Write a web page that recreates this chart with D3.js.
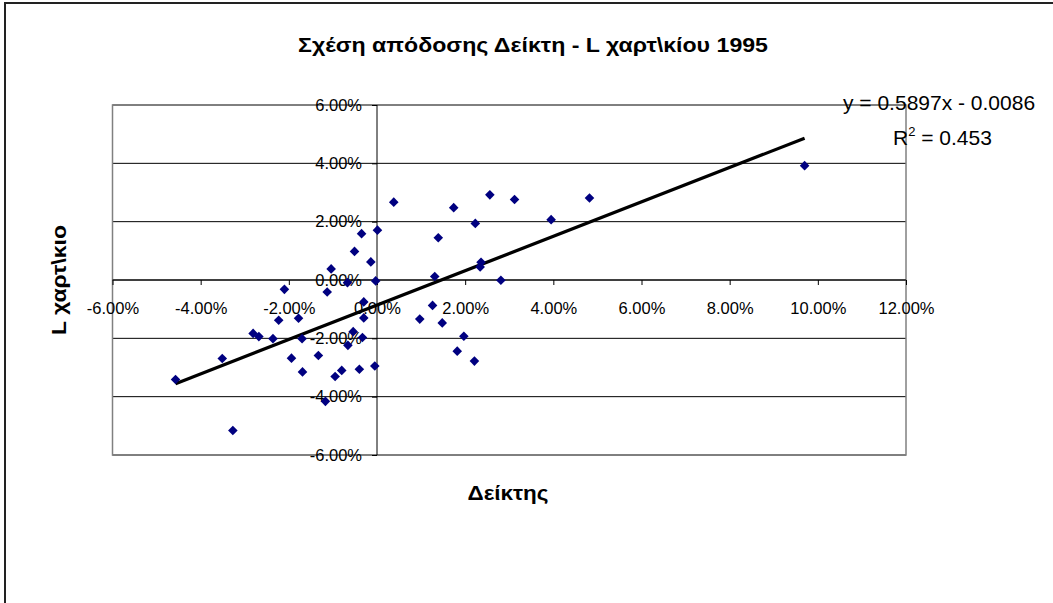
<!DOCTYPE html>
<html>
<head>
<meta charset="utf-8">
<title>Σχέση απόδοσης Δείκτη - L χαρτ\κίου 1995</title>
<style>
  body { margin: 0; background: #fff; overflow: hidden; }
  svg { display: block; font-family: "Liberation Sans", Arial, sans-serif; }
</style>
</head>
<body>
<div id="chart"></div>
<script src="https://d3js.org/d3.v7.min.js"></script>
<script>
// index returns (%)
var indexReturns = [-4.57, -3.51, -3.27, -2.81, -2.68, -2.36, -2.23, -2.10, -1.94, -1.78,
                    -1.70, -1.69, -1.33, -1.17, -1.13, -1.04, -0.95, -0.80, -0.67, -0.66,
                    -0.54, -0.51, -0.40, -0.35, -0.33, -0.30, -0.30, -0.14, -0.05, -0.03,
                     0.01,  0.38,  0.97,  1.26,  1.31,  1.39,  1.48,  1.74,  1.82,  1.97,
                     2.21,  2.23,  2.34,  2.36,  2.56,  2.81,  3.12,  3.95,  4.82,  9.70];
var stockReturns = [-3.41, -2.69, -5.16, -1.83, -1.94, -2.01, -1.38, -0.32, -2.68, -1.31,
                    -2.01, -3.15, -2.59, -4.16, -0.41,  0.38, -3.31, -3.10, -0.09, -2.24,
                    -1.77,  0.98, -3.06,  1.59, -1.97, -0.75, -1.30,  0.62, -2.95, -0.03,
                     1.71,  2.67, -1.34, -0.87,  0.12,  1.45, -1.47,  2.48, -2.44, -1.93,
                    -2.78,  1.94,  0.45,  0.61,  2.92, -0.01,  2.76,  2.07,  2.81,  3.92];
var xTicks = [-6, -4, -2, 0, 2, 4, 6, 8, 10, 12];
var yTicks = [-6, -4, -2, 0, 2, 4, 6];
// trend line as shown on the chart: y = 0.5897x - 0.0086
var slope = 0.5897, intercept = -0.0086;

var W = 1053, H = 603;
var svg = d3.select("#chart").append("svg")
    .attr("width", W).attr("height", H);

// outer chart frame: only its left and top edges are in the picture
svg.append("path")
    .attr("d", "M5," + H + "V3H" + W)
    .attr("fill", "none").attr("stroke", "#222").attr("stroke-width", 2);

var x = d3.scaleLinear().domain([-6, 12]).range([112.5, 906]);
var y = d3.scaleLinear().domain([-6, 6]).range([455, 105]);

// horizontal gridlines
svg.append("g").selectAll("line")
  .data(yTicks)
  .enter().append("line")
    .attr("x1", x(-6)).attr("x2", x(12))
    .attr("y1", function(d) { return y(d); })
    .attr("y2", function(d) { return y(d); })
    .attr("stroke", "#000").attr("stroke-width", 1);

// plot area border
svg.append("rect")
    .attr("x", x(-6)).attr("y", y(6))
    .attr("width", x(12) - x(-6)).attr("height", y(-6) - y(6))
    .attr("fill", "none").attr("stroke", "#808080").attr("stroke-width", 1.5);

var fmt = function(d) { return d.toFixed(2) + "%"; };

var xAxis = svg.append("g")
    .attr("transform", "translate(0," + y(0) + ")")
    .call(d3.axisBottom(x).tickValues(xTicks).tickFormat(fmt).tickSize(5).tickPadding(17));
var yAxis = svg.append("g")
    .attr("transform", "translate(" + x(0) + ",0)")
    .call(d3.axisLeft(y).tickValues(yTicks).tickFormat(fmt).tickSize(5).tickPadding(10));

[xAxis, yAxis].forEach(function(a) {
  a.select(".domain").attr("stroke", "#000");
  a.selectAll(".tick line").attr("stroke", "#000");
  a.selectAll(".tick text")
    .attr("fill", "#000")
    .style("font-family", "'Liberation Sans', Arial, sans-serif")
    .style("font-size", "16.5px");
});
xAxis.select(".domain").attr("d", "M" + x(-6) + ",0H" + x(12));
yAxis.select(".domain").attr("d", "M0," + y(6) + "V" + y(-6));

// trend line
var xMin = d3.min(indexReturns), xMax = d3.max(indexReturns);
svg.append("line")
    .attr("x1", x(xMin)).attr("y1", y((slope * xMin / 100 + intercept) * 100))
    .attr("x2", x(xMax)).attr("y2", y((slope * xMax / 100 + intercept) * 100))
    .attr("stroke", "#000").attr("stroke-width", 3.2);

// points
var pts = indexReturns.map(function(v, i) { return [v, stockReturns[i]]; });
svg.append("g").selectAll("path")
  .data(pts)
  .enter().append("path")
    .attr("transform", function(d) { return "translate(" + x(d[0]) + "," + y(d[1]) + ")"; })
    .attr("d", "M0,-4.8L4.8,0L0,4.8L-4.8,0Z")
    .attr("fill", "#000080");

// titles
svg.append("text")
    .attr("x", 533).attr("y", 52)
    .attr("text-anchor", "middle")
    .attr("textLength", 470).attr("lengthAdjust", "spacingAndGlyphs")
    .style("font-weight", "bold").style("font-size", "20px")
    .text("Σχέση απόδοσης Δείκτη - L χαρτ\\κίου 1995");

svg.append("text")
    .attr("x", 508).attr("y", 500)
    .attr("text-anchor", "middle")
    .attr("textLength", 81).attr("lengthAdjust", "spacingAndGlyphs")
    .style("font-weight", "bold").style("font-size", "20px")
    .text("Δείκτης");

svg.append("text")
    .attr("transform", "translate(66,280) rotate(-90)")
    .attr("text-anchor", "middle")
    .attr("textLength", 110).attr("lengthAdjust", "spacingAndGlyphs")
    .style("font-weight", "bold").style("font-size", "20px")
    .text("L χαρτ\\κιο");

// regression label
svg.append("text")
    .attr("x", 843).attr("y", 110)
    .style("font-size", "21px")
    .text("y = 0.5897x - 0.0086");
var r2 = svg.append("text")
    .attr("x", 893).attr("y", 145)
    .style("font-size", "21px");
r2.append("tspan").text("R");
r2.append("tspan").attr("dy", -9).style("font-size", "13px").text("2");
r2.append("tspan").attr("dy", 9).text(" = 0.453");
</script>
</body>
</html>
